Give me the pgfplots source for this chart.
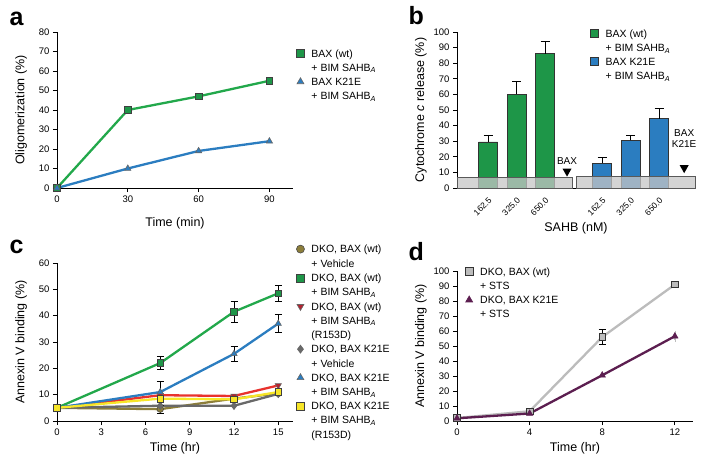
\documentclass[border=0pt]{standalone}
\usepackage{fontspec}
\setmainfont{Liberation Sans}
\usepackage{pgfplots}
\pgfplotsset{compat=1.18}

\definecolor{lgreen}{RGB}{34,168,75}
\definecolor{mgreen}{RGB}{30,150,72}
\definecolor{lblue}{RGB}{43,125,192}
\definecolor{lred}{RGB}{232,50,45}
\definecolor{mred}{RGB}{178,35,48}
\definecolor{lyellow}{RGB}{247,230,40}
\definecolor{lgray}{RGB}{105,105,105}
\definecolor{lolive}{RGB}{140,126,58}
\definecolor{dgray}{RGB}{188,188,188}
\definecolor{dpurple}{RGB}{92,30,80}

\newcommand{\sahb}{SAHB\textsubscript{\itshape A}}
% continuation line of a legend entry
\newcommand{\more}[1]{\addlegendimage{empty legend}\addlegendentry{#1}}

\pgfplotsset{
  panel/.style={
    scale only axis, anchor=south west,
    axis lines=left, axis line style={-, line width=1pt},
    tick align=outside, major tick length=4pt,
    tick style={line width=0.8pt, black},
    enlargelimits=false, clip=false,
    tick label style={font=\fontsize{9.5}{11}\selectfont},
    label style={font=\fontsize{12.5}{14}\selectfont},
    /pgf/number format/assume math mode=true,
    legend style={draw=none, fill=none, font=\fontsize{10.5}{12.5}\selectfont,
      cells={anchor=base west, inner ysep=1.5pt},
      row sep=1.3pt, column sep=5pt},
    legend image code/.code={\draw[##1, only marks, mark size=4pt] plot coordinates {(0.15cm,3.6pt)};},
  },
  barleg/.style={legend image code/.code={\draw[##1] (0pt,0pt) rectangle (8pt,8pt);}},
  ln/.style={line width=2.3pt},
  ebar/.style={forget plot, draw=none, mark=none,
    error bars/.cd, y dir=both, y explicit,
    error bar style={draw=black, line width=0.8pt},
    error mark options={rotate=90, draw=black, line width=0.8pt, mark size=3.5pt}},
}

\begin{document}
\begin{tikzpicture}
\useasboundingbox (0,0) rectangle (706pt,459pt);

\node[anchor=base west, font=\fontsize{25}{25}\selectfont\bfseries] at (6pt,433pt) {a};
\node[anchor=base west, font=\fontsize{25}{25}\selectfont\bfseries] at (405pt,434pt) {b};
\node[anchor=base west, font=\fontsize{25}{25}\selectfont\bfseries] at (6pt,206pt) {c};
\node[anchor=base west, font=\fontsize{25}{25}\selectfont\bfseries] at (405pt,199pt) {d};

% ---- a
\begin{axis}[panel, at={(57pt,271pt)}, width=236pt, height=156pt,
  xmin=0, xmax=100, ymin=0, ymax=80, xtick={0,30,60,90}, ytick={0,10,...,80},
  xlabel={Time (min)}, ylabel={Oligomerization (\%)},
  xlabel shift=8pt, ylabel shift=5pt,
  legend style={at={(1.0,0.915)}, anchor=north west}]
\addplot[lgreen, ln, mark=square*, mark size=3.3pt, mark options={fill=mgreen, draw=black!75, line width=0.8pt}]
  coordinates {(0,0) (30,40) (60,47) (90,55)};
\addlegendentry{BAX (wt)}
\more{+ BIM \sahb}
\addplot[lblue, ln, mark=triangle*, mark size=3.6pt, mark options={fill=lblue, draw=black!60, line width=0.6pt}]
  coordinates {(0,0) (30,10) (60,19) (90,24)};
\addlegendentry{BAX K21E}
\more{+ BIM \sahb}
\end{axis}

% ---- b
\begin{axis}[panel, barleg, at={(457pt,271pt)}, width=238pt, height=156pt,
  xmin=-1.09, xmax=7.26, ymin=0, ymax=100, ytick={0,10,...,100},
  xtick={0,1,2,4,5,6}, xticklabels={162.5,325.0,650.0,162.5,325.0,650.0},
  x tick label style={rotate=45, anchor=north east, font=\fontsize{8.5}{10}\selectfont},
  major x tick style={draw=none},
  xlabel={SAHB (nM)}, ylabel={Cytochrome \textit{c} release (\%)},
  xlabel shift=-2pt,
  legend style={at={(0.545,1.04)}, anchor=north west}]
\addplot[ybar, bar width=0.67, bar shift=0pt, fill=mgreen, draw=black!80, line width=0.8pt,
  error bars/.cd, y dir=plus, y explicit, error bar style={black, line width=0.8pt},
  error mark options={rotate=90, black, line width=0.8pt, mark size=4.5pt}]
  coordinates {(0,29.5) +- (0,4.5) (1,60) +- (0,8.5) (2,86) +- (0,8)};
\addlegendentry{BAX (wt)}
\more{+ BIM \sahb}
\addplot[ybar, bar width=0.67, bar shift=0pt, fill=lblue, draw=black!80, line width=0.8pt,
  error bars/.cd, y dir=plus, y explicit, error bar style={black, line width=0.8pt},
  error mark options={rotate=90, black, line width=0.8pt, mark size=4.5pt}]
  coordinates {(4,16) +- (0,3.3) (5,30.5) +- (0,3) (6,44.5) +- (0,6.3)};
\addlegendentry{BAX K21E}
\more{+ BIM \sahb}
\draw[fill=gray!45, fill opacity=0.75, draw=black!65, line width=0.8pt]
  (axis cs:-1.09,0) rectangle (axis cs:2.95,6.5);
\draw[fill=gray!45, fill opacity=0.75, draw=black!65, line width=0.8pt]
  (axis cs:3.09,0) rectangle (axis cs:7.26,7.5);
\fill (axis cs:2.77,7.3) -- ++(-4.5pt,8pt) -- ++(9pt,0pt) -- cycle;
\node[anchor=base, font=\fontsize{10}{12}\selectfont] at (axis cs:2.77,15) {BAX};
\fill (axis cs:6.88,9.5) -- ++(-4.5pt,8pt) -- ++(9pt,0pt) -- cycle;
\node[anchor=base, font=\fontsize{10}{12}\selectfont, align=center] at (axis cs:6.88,26) {BAX\\[-1pt]K21E};
\end{axis}

% ---- c
\begin{axis}[panel, at={(57pt,38pt)}, width=236pt, height=158pt,
  xmin=0, xmax=16, ymin=0, ymax=60, xtick={0,3,...,15}, ytick={0,10,...,60},
  xlabel={Time (hr)}, ylabel={Annexin V binding (\%)}, ylabel shift=5pt,
  legend style={at={(1.0,1.14)}, anchor=north west}]
\addplot[lolive, ln, mark=*, mark size=3.3pt, mark options={fill=lolive, draw=black!70, line width=0.6pt}]
  coordinates {(0,5) (7,4.5) (12,8.5) (15,10.5)};
\addlegendentry{DKO, BAX (wt)}
\more{+ Vehicle}
\addplot[lgreen, ln, mark=square*, mark size=3.3pt, mark options={fill=mgreen, draw=black!75, line width=0.8pt}]
  coordinates {(0,5) (7,22) (12,41.5) (15,48.5)};
\addlegendentry{DKO, BAX (wt)}
\more{+ BIM \sahb}
\addplot[lred, ln, mark=triangle*, mark size=3.6pt, mark options={rotate=180, fill=mred, draw=black!60, line width=0.6pt}]
  coordinates {(0,5) (7,9.8) (12,9.5) (15,13.5)};
\addlegendentry{DKO, BAX (wt)}
\more{+ BIM \sahb}
\more{(R153D)}
\addplot[lgray, ln, mark=diamond*, mark size=3.8pt, mark options={fill=lgray, draw=black!60, line width=0.6pt}]
  coordinates {(0,5) (7,5.8) (12,5.8) (15,10.3)};
\addlegendentry{DKO, BAX K21E}
\more{+ Vehicle}
\addplot[lblue, ln, mark=triangle*, mark size=3.6pt, mark options={fill=lblue, draw=black!60, line width=0.6pt}]
  coordinates {(0,5) (7,11) (12,25.5) (15,37)};
\addlegendentry{DKO, BAX K21E}
\more{+ BIM \sahb}
\addplot[lyellow, ln, mark=square*, mark size=3.3pt, mark options={fill=lyellow, draw=black!75, line width=0.8pt}]
  coordinates {(0,5) (7,8.5) (12,8.2) (15,11)};
\addlegendentry{DKO, BAX K21E}
\more{+ BIM \sahb}
\more{(R153D)}
\addplot[ebar] coordinates {(7,22) +- (0,2.5) (12,41.5) +- (0,4) (15,48.5) +- (0,3)};
\addplot[ebar] coordinates {(7,11) +- (0,4) (12,25.5) +- (0,3) (15,37) +- (0,3.5)};
\addplot[ebar] coordinates {(7,4.5) +- (0,1.5)};
\end{axis}

% ---- d
\begin{axis}[panel, at={(457pt,38pt)}, width=236pt, height=150pt,
  xmin=0, xmax=13, ymin=0, ymax=100, xtick={0,4,8,12}, ytick={0,10,...,100},
  xlabel={Time (hr)}, ylabel={Annexin V binding (\%)},
  legend style={at={(0.02,1.05)}, anchor=north west}]
\addplot[dgray, ln, mark=square*, mark size=3.3pt, mark options={fill=dgray, draw=black!80, line width=0.8pt}]
  coordinates {(0,2) (4,6.5) (8,56) (12,91)};
\addlegendentry{DKO, BAX (wt)}
\more{+ STS}
\addplot[dpurple, ln, mark=triangle*, mark size=3.6pt, mark options={fill=dpurple, draw=dpurple, line width=0.6pt}]
  coordinates {(0,1.8) (4,5) (8,30.5) (12,56.5)};
\addlegendentry{DKO, BAX K21E}
\more{+ STS}
\addplot[ebar] coordinates {(8,56) +- (0,5) (12,91) +- (0,2)};
\addplot[ebar, error bar style={draw=dgray}, error mark options={draw=dgray}] coordinates {(12,56.5) +- (0,2.5)};
\end{axis}
\end{tikzpicture}
\end{document}
